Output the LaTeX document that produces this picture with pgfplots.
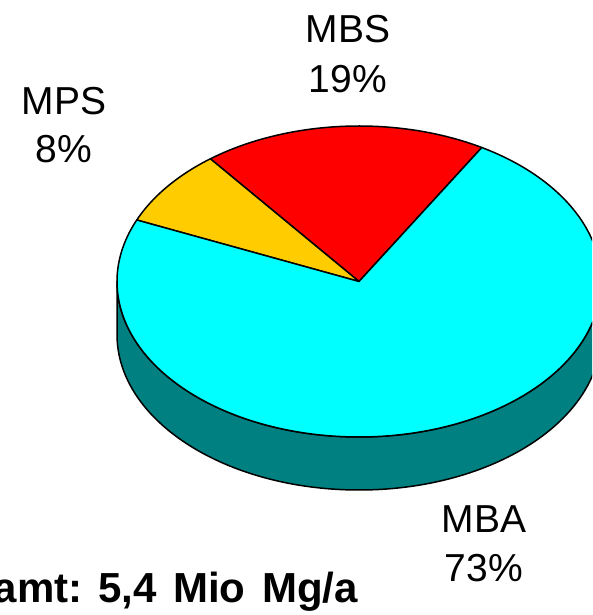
\documentclass[border=0pt]{standalone}
\usepackage{pgfplots}
\pgfplotsset{compat=1.18}
\usepackage{pgfplotstable}
\usepackage{fontspec}
\setmainfont{Liberation Sans}

\definecolor{mbs}{RGB}{255,0,0}
\definecolor{mps}{RGB}{255,204,0}
\definecolor{mba}{RGB}{0,255,255}
\definecolor{mbaside}{RGB}{0,128,128}

\tikzset{lbl/.style={anchor=base, inner sep=0, font=\fontsize{39}{47}\selectfont}}

% shares of the total amount (percent)
\pgfplotstableread{
name value
MBS  19
MPS  8
MBA  73
}\piedata

\begin{document}
\begin{tikzpicture}
\pgfplotstablegetelem{0}{value}\of\piedata \let\vMBS\pgfplotsretval
\pgfplotstablegetelem{1}{value}\of\piedata \let\vMPS\pgfplotsretval
\pgfplotstablegetelem{2}{value}\of\piedata \let\vMBA\pgfplotsretval
% cumulative angles of the slices
\pgfmathsetmacro\aA{59.5}
\pgfmathsetmacro\aB{\aA+3.6*\vMBS}
\pgfmathsetmacro\aC{\aB+3.6*\vMPS}
\pgfmathsetmacro\aD{\aC+3.6*\vMBA}
% pie geometry: centre, radii
\def\cx{359}\def\cy{333.5}\def\rx{242}\def\ry{155.5}
\useasboundingbox (0,0) rectangle (592pt,615pt);
\clip (0,0) rectangle (592pt,615pt);
\begin{axis}[
  at={(0,0)}, anchor=south west,
  width=592pt, height=615pt, scale only axis,
  xmin=0, xmax=592, ymin=0, ymax=615,
  axis lines=none, clip=true,
]
% side wall of the disc (front half)
\draw[fill=mbaside, line width=1.5pt, line join=round]
  (axis cs:117,333.5) arc[start angle=180, end angle=360, x radius=242pt, y radius=155.5pt]
  -- ++(0,-53pt)
  arc[start angle=0, end angle=-180, x radius=242pt, y radius=155.5pt] -- cycle;
% top face slices
\addplot[fill=mbs, draw=black, line width=1.5pt, line join=round, domain=\aA:\aB, samples=80, variable=\t]
  ({\cx+\rx*cos(\t)}, {\cy+\ry*sin(\t)}) -- (axis cs:\cx,\cy) -- cycle;
\addplot[fill=mps, draw=black, line width=1.5pt, line join=round, domain=\aB:\aC, samples=60, variable=\t]
  ({\cx+\rx*cos(\t)}, {\cy+\ry*sin(\t)}) -- (axis cs:\cx,\cy) -- cycle;
\addplot[fill=mba, draw=black, line width=1.5pt, line join=round, domain=\aC:\aD, samples=200, variable=\t]
  ({\cx+\rx*cos(\t)}, {\cy+\ry*sin(\t)}) -- (axis cs:\cx,\cy) -- cycle;
% slice labels
\node[lbl] at (axis cs:348,572) {MBS};
\node[lbl] at (axis cs:348,522) {19\%};
\node[lbl] at (axis cs:64,500) {MPS};
\node[lbl] at (axis cs:64,452) {8\%};
\node[lbl] at (axis cs:484,82) {MBA};
\node[lbl] at (axis cs:484,34) {73\%};
% total amount
\node[anchor=base east, inner sep=0, font=\fontsize{42}{50}\selectfont\bfseries]
  at (axis cs:358,13) {Gesamt: 5,4\ \hspace{5pt}Mio\ \hspace{5pt}Mg/a};
\end{axis}
\end{tikzpicture}
\end{document}
